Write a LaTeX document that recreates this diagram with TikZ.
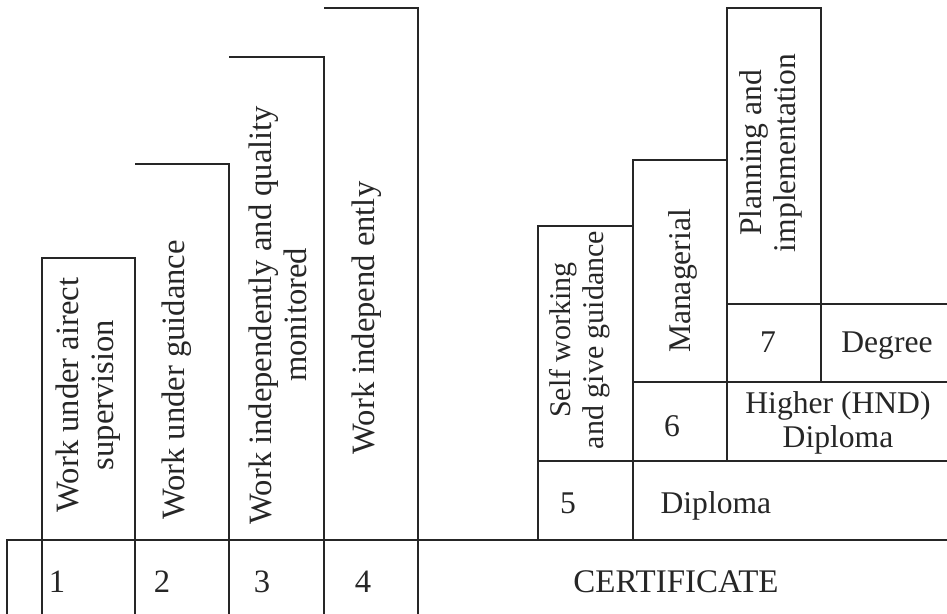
\documentclass[tikz,border=0pt]{standalone}
\usepackage{fontspec}
\setmainfont{Liberation Serif}

\tikzset{
  every picture/.append style={x=0.5pt, y=-0.5pt},
  label text/.style={font=\fontsize{15.8}{17}\selectfont, inner sep=0pt},
  big text/.style={font=\fontsize{16.3}{17.5}\selectfont, inner sep=0pt},
  up text/.style={label text, rotate=90, align=center},
  big up text/.style={big text, rotate=90, align=center},
}

\begin{document}
\begin{tikzpicture}[line width=0.6pt, black!85]
  \useasboundingbox (0,0) rectangle (947,614);
  % certificate row
  \draw (7,614) -- (7,540) -- (947,540);
  % levels 1 to 4
  \draw (42,614) -- (42,258) -- (135,258) -- (135,614);
  \draw (135,164) -- (229,164) -- (229,614);
  \draw (229,57) -- (324,57) -- (324,614);
  \draw (324,8) -- (418,8) -- (418,614);
  % levels 5 to 7
  \draw (538,540) -- (538,226) -- (633,226);
  \draw (633,540) -- (633,160) -- (727,160);
  \draw (538,461) -- (947,461);
  \draw (727,461) -- (727,8) -- (821,8) -- (821,382);
  \draw (633,382) -- (947,382);
  \draw (727,304) -- (947,304);

  \node[big up text] (w1) at(88,395){Work under airect\\supervision};
  \node[big up text] (w2) at(177,380){Work under guidance};
  \node[big up text] (w3) at(278,315){Work independently and quality\\monitored};
  \node[big up text] (w4) at(367,318){Work independ ently};
  \node[up text, font=\fontsize{15}{16.5}\selectfont] (w5) at(580,340){Self working\\and give guidance};
  \node[up text] (w6) at(683,281){Managerial};
  \node[up text] (w7) at(771,153){Planning and\\implementation};

  \node[big text, anchor=base] (n1) at(57,592){1};
  \node[big text, anchor=base] (n2) at(162,592){2};
  \node[big text, anchor=base] (n3) at(262,592){3};
  \node[big text, anchor=base] (n4) at(363,592){4};
  \node[big text, font=\fontsize{16.5}{18}\selectfont, anchor=base] (cert) at(676,592){CERTIFICATE};
  \node[label text, anchor=base] (n5) at(568,513){5};
  \node[label text, anchor=base west] (dipl) at(660,513){Diploma};
  \node[label text, anchor=base] (n6) at(672,437){6};
  \node[label text, anchor=base, align=center] (hnd) at(838,447){Higher (HND)\\Diploma};
  \node[label text, anchor=base] (n7) at(768,353){7};
  \node[label text, anchor=base] (deg) at(887,353){Degree};
\end{tikzpicture}
\end{document}
